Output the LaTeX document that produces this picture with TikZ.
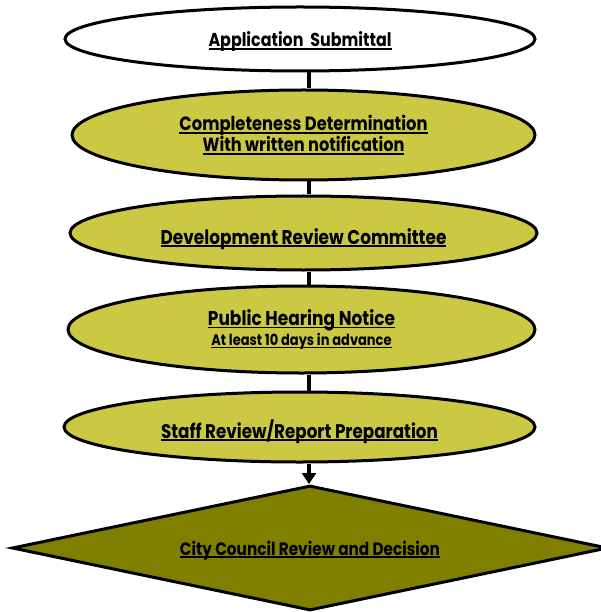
\documentclass[tikz,border=0pt]{standalone}
\usepackage{fontspec}
\setmainfont{Poppins}
\usetikzlibrary{shapes.geometric,arrows.meta}
\definecolor{olivelight}{RGB}{203,200,68}
\definecolor{olivedark}{RGB}{128,128,0}
\newsavebox{\ulbox}
\newcommand{\ULine}[1]{\sbox{\ulbox}{#1}\leavevmode\hbox{\usebox{\ulbox}\kern-\wd\ulbox\rule[-3pt]{\wd\ulbox}{1.8pt}}}
\newcommand{\TT}[3]{\scalebox{#1}[1]{\fontsize{#2}{#2}\selectfont\bfseries\ULine{#3}}}
\newcommand{\Low}[2]{\raisebox{-#1}[0pt][0pt]{#2}}
\tikzset{
  stepell/.style={ellipse,draw=black,line width=3pt,fill=olivelight,inner sep=0pt,align=center,font=\fontsize{19}{20}\selectfont},
  conn/.style={line width=4pt},
}
\begin{document}
\begin{tikzpicture}[x=1pt,y=-1pt]
\useasboundingbox (0,0) rectangle (600,612);
\node[stepell,fill=white,minimum width=470pt,minimum height=64pt] (e1) at (300,39) {\Low{8pt}{\TT{0.85}{18.7}{Application\ \ Submittal}}};
\node[stepell,minimum width=463pt,minimum height=90pt] (e2) at (303.5,135) {\TT{0.85}{19.2}{Completeness Determination}\\\TT{0.85}{19}{With written notification}};
\node[stepell,minimum width=467pt,minimum height=74pt] (e3) at (303.5,233) {\Low{11pt}{\TT{0.85}{19.9}{Development Review Committee}}};
\node[stepell,minimum width=467pt,minimum height=87pt] (e4) at (301.5,329.5) {\TT{0.85}{20}{Public Hearing Notice}\\\TT{0.85}{15.3}{At least 10 days in advance}};
\node[stepell,minimum width=471pt,minimum height=70pt] (e5) at (299.5,427) {\Low{11pt}{\TT{0.85}{19.7}{Staff Review/Report Preparation}}};
\node[diamond,shape aspect=4.77,draw=black,line width=3pt,fill=olivedark,inner sep=0pt,minimum width=596pt,minimum height=125pt] (d) at (310,548) {\Low{7pt}{\TT{0.85}{18}{City Council Review and Decision}}};
\coordinate (cx) at (309,0);
\draw[conn] (e1.south -| cx) -- (e2.north -| cx);
\draw[conn] (e2.south -| cx) -- (e3.north -| cx);
\draw[conn] (e3.south -| cx) -- (e4.north -| cx);
\draw[conn] (e4.south -| cx) -- (e5.north -| cx);
\draw[conn,-{Triangle[width=14pt,length=11pt]}] (e5.south -| cx) -- (d.north -| cx);
\end{tikzpicture}
\end{document}
